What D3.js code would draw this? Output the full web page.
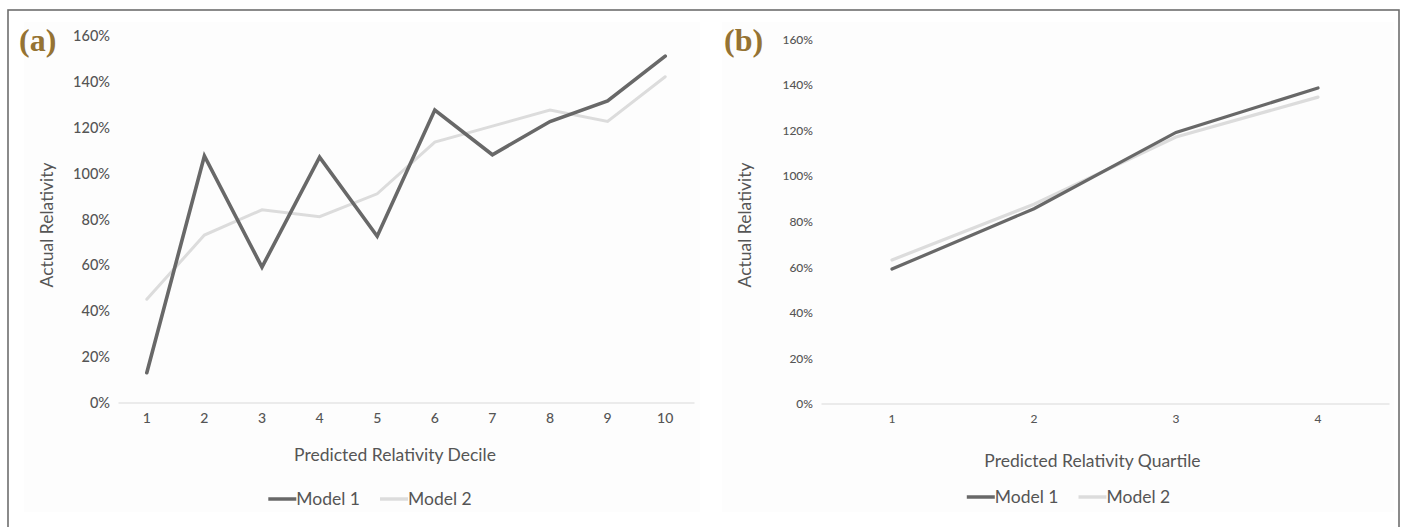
<!DOCTYPE html>
<html><head><meta charset="utf-8">
<script src="https://cdn.jsdelivr.net/npm/d3@7"></script>
<style>
html,body{margin:0;padding:0;background:#fff;}
svg{display:block;font-family:Lato,"Noto Sans",sans-serif;}
</style></head>
<body>
<svg id="c" width="1404" height="527"></svg>
<script>
// ---- data ----
const decileCats = ["1","2","3","4","5","6","7","8","9","10"];
const decileModel1 = [13, 107.5, 59, 107, 72.5, 127.5, 108, 122.5, 131.5, 151];
const decileModel2 = [45, 73, 84, 81, 91, 113.5, 120.5, 127.5, 122.5, 142];
const quartileCats = ["1","2","3","4"];
const quartileModel1 = [59, 85.5, 119, 138.5];
const quartileModel2 = [63, 87.5, 117, 134.5];
const yTicks = [0, 20, 40, 60, 80, 100, 120, 140, 160];
const seriesNames = ["Model 1", "Model 2"];
const panelLabels = ["(a)", "(b)"];
const xTitles = ["Predicted Relativity Decile", "Predicted Relativity Quartile"];
const yTitle = "Actual Relativity";

const svg = d3.select("#c");
const colors = ["#686868", "#dcdcdc"];
const textColor = "#555555";

// outer frame
svg.append("rect").attr("x", 8).attr("y", 10).attr("width", 1391).attr("height", 540)
  .attr("fill", "#fff").attr("stroke", "#6e6e6e").attr("stroke-width", 1.6);

const panels = [
  {cats: decileCats, s: [decileModel1, decileModel2], x0: 118, x1: 694, y0: 402.5, y1: 35.5,
   bg: [24, 22, 676, 490], label: panelLabels[0], labelX: 19, xTitle: xTitles[0], xTitleX: 395, xTitleY: 461,
   legendCX: 370, legendY: 499, tickSize: 14.5, xTickSize: 14, titleSize: 17.5, legSize: 17.5, yTitleX: 47, lw: [3.6, 3]},
  {cats: quartileCats, s: [quartileModel1, quartileModel2], x0: 821, x1: 1389, y0: 403.5, y1: 39,
   bg: [722, 22, 672, 490], label: panelLabels[1], labelX: 724, xTitle: xTitles[1], xTitleX: 1092.5, xTitleY: 467,
   legendCX: 1068.5, legendY: 497, tickSize: 12, xTickSize: 12, titleSize: 17.5, legSize: 17.5, yTitleX: 745, lw: [3.2, 3.2]}
];

panels.forEach(p => {
  const g = svg.append("g");
  g.append("rect").attr("x", p.bg[0]).attr("y", p.bg[1]).attr("width", p.bg[2]).attr("height", p.bg[3])
    .attr("fill", "#fdfdfd");

  const x = d3.scaleBand().domain(p.cats).range([p.x0, p.x1]);
  const y = d3.scaleLinear().domain([0, 160]).range([p.y0, p.y1]);

  // y axis labels
  const ya = d3.axisLeft(y).tickValues(yTicks).tickFormat(d => d + "%").tickSize(0).tickPadding(0);
  const yg = g.append("g").attr("transform", `translate(${p.x0 - 8},0)`).call(ya);
  yg.select(".domain").remove();
  yg.selectAll("text").attr("fill", textColor).attr("font-size", p.tickSize).attr("font-family", "Lato")
    .attr("font-weight", 500).attr("dy", "0.35em");

  // x axis
  const xa = d3.axisBottom(x).tickSize(0).tickPadding(11);
  const xg = g.append("g").attr("transform", `translate(0,${p.y0})`).call(xa);
  xg.select(".domain").attr("stroke", "#d9d9d9").attr("stroke-width", 1.2);
  xg.selectAll("text").attr("fill", textColor).attr("font-size", p.xTickSize).attr("font-family", "Lato")
    .attr("font-weight", 500);

  // lines
  const line = d3.line().x((d, i) => x(p.cats[i]) + x.bandwidth() / 2).y(d => y(d));
  [1, 0].forEach(k => {
    g.append("path").datum(p.s[k]).attr("d", line).attr("fill", "none")
      .attr("stroke", colors[k]).attr("stroke-width", p.lw[k])
      .attr("stroke-linejoin", "miter").attr("stroke-linecap", "round");
  });

  // titles
  g.append("text").attr("x", p.xTitleX).attr("y", p.xTitleY).attr("text-anchor", "middle")
    .attr("fill", textColor).attr("font-size", p.titleSize).text(p.xTitle);
  g.append("text").attr("transform", `translate(${p.yTitleX},225) rotate(-90)`).attr("text-anchor", "middle")
    .attr("dy", "0.35em").attr("fill", textColor).attr("font-size", p.titleSize).text(yTitle);

  // panel label
  g.append("text").attr("x", p.labelX).attr("y", 51).attr("fill", "#957333")
    .attr("font-family", "'Liberation Serif',serif").attr("font-weight", "bold").attr("font-size", 32)
    .text(p.label);

  // legend
  const lg = g.append("g");
  let cx = 0;
  seriesNames.forEach((n, k) => {
    lg.append("line").attr("x1", cx).attr("x2", cx + 28).attr("y1", 0).attr("y2", 0)
      .attr("stroke", colors[k]).attr("stroke-width", 3.5);
    const t = lg.append("text").attr("x", cx + 28).attr("y", 0).attr("dy", "0.35em")
      .attr("fill", textColor).attr("font-size", p.legSize).text(n);
    cx += 28 + t.node().getComputedTextLength() + 20;
  });
  const w = cx - 20;
  lg.attr("transform", `translate(${p.legendCX - w / 2},${p.legendY})`);
});
</script>
</body></html>
